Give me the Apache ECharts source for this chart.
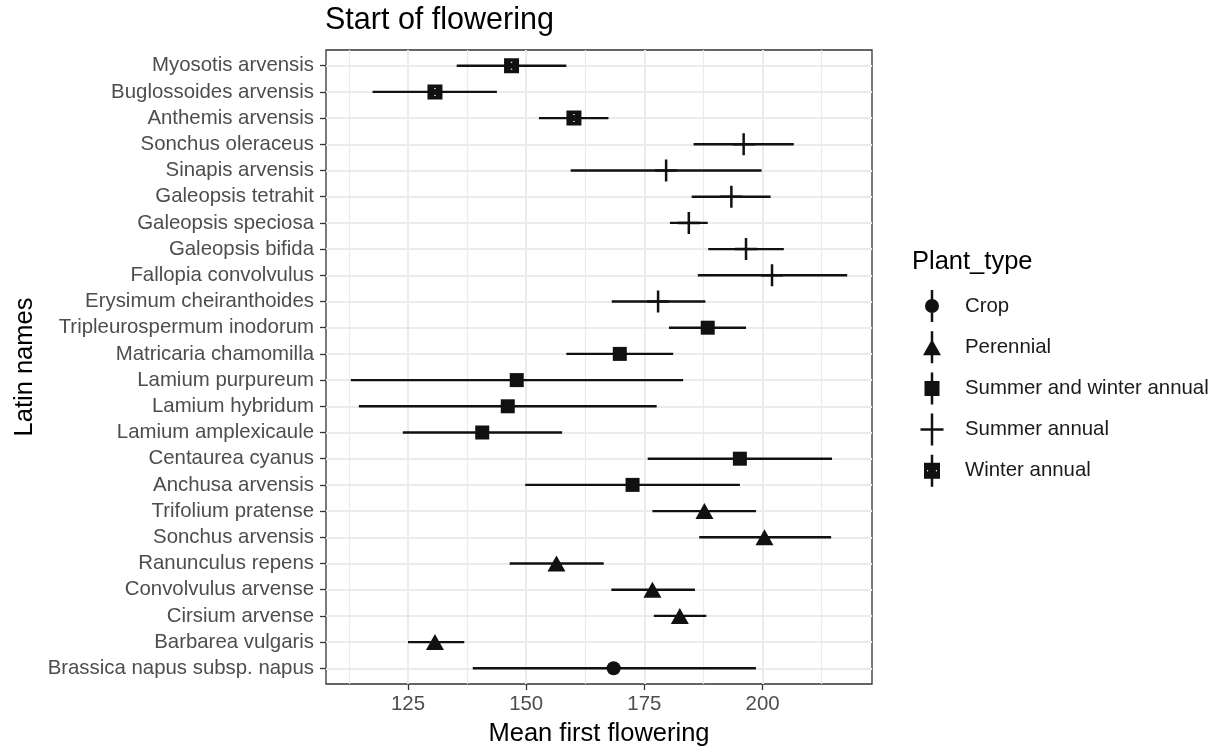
<!DOCTYPE html>
<html lang="en">
<head>
<meta charset="UTF-8" />
<title>Start of flowering</title>
<script type="text/javascript" src="https://cdn.jsdelivr.net/npm/echarts@6/dist/echarts.min.js"></script>
<style>
html, body { margin: 0; padding: 0; background: #fff; }
#main { width: 1222px; height: 752px; }
</style>
</head>
<body>
<div id="main"></div>
<script type="text/javascript">
// species, from top row to bottom row
var species = ['Myosotis arvensis', 'Buglossoides arvensis', 'Anthemis arvensis', 'Sonchus oleraceus',
    'Sinapis arvensis', 'Galeopsis tetrahit', 'Galeopsis speciosa', 'Galeopsis bifida', 'Fallopia convolvulus',
    'Erysimum cheiranthoides', 'Tripleurospermum inodorum', 'Matricaria chamomilla', 'Lamium purpureum',
    'Lamium hybridum', 'Lamium amplexicaule', 'Centaurea cyanus', 'Anchusa arvensis', 'Trifolium pratense',
    'Sonchus arvensis', 'Ranunculus repens', 'Convolvulus arvense', 'Cirsium arvense', 'Barbarea vulgaris',
    'Brassica napus subsp. napus'];
var plantType = ['Winter annual', 'Winter annual', 'Winter annual',
    'Summer annual', 'Summer annual', 'Summer annual', 'Summer annual', 'Summer annual', 'Summer annual', 'Summer annual',
    'Summer and winter annual', 'Summer and winter annual', 'Summer and winter annual', 'Summer and winter annual',
    'Summer and winter annual', 'Summer and winter annual', 'Summer and winter annual',
    'Perennial', 'Perennial', 'Perennial', 'Perennial', 'Perennial', 'Perennial',
    'Crop'];
var meanFlower = [146.9, 130.7, 160.1, 196.0, 179.6, 193.4, 184.4, 196.5, 202.0, 177.9, 188.4, 169.8,
    148.0, 146.1, 140.7, 195.2, 172.5, 187.7, 200.4, 156.4, 176.7, 182.5, 130.7, 168.5];
var lowerFlower = [135.3, 117.5, 152.7, 185.4, 159.4, 185.0, 180.4, 188.5, 186.3, 168.1, 180.2, 158.5,
    112.9, 114.6, 123.9, 175.7, 149.8, 176.7, 186.6, 146.5, 168.0, 177.0, 125.0, 138.7];
var upperFlower = [158.5, 143.8, 167.4, 206.6, 199.8, 201.7, 188.4, 204.5, 217.9, 187.9, 196.5, 181.1,
    183.2, 177.6, 157.6, 214.7, 195.2, 198.6, 214.5, 166.4, 185.7, 188.1, 136.9, 198.6];
var typeNames = ['Crop', 'Perennial', 'Summer and winter annual', 'Summer annual', 'Winter annual'];
var xTicks = [125, 150, 175, 200];
var xMinorTicks = [112.5, 137.5, 162.5, 187.5, 212.5];
var rowTicks = species.map(function (s, i) { return i; });

var font = "'Liberation Sans', Arial, Helvetica, sans-serif";
var ink = '#111111';

// point shapes like ggplot's (winter annual = boxed cross, shows as square with tiny gaps)
var plus = 'path://M0,9.75H9.75V0H12.25V9.75H22V12.25H12.25V22H9.75V12.25H0Z';
var boxedX = 'path://M0,0H15V15H0Z M6.5,3.5L7.5,5L8.5,3.5Z M6.5,11.5L8.5,11.5L7.5,10Z';
var shapes = {
    'Crop': { symbol: 'circle', size: 14 },
    'Perennial': { symbol: 'triangle', size: [18, 16] },
    'Summer and winter annual': { symbol: 'rect', size: 14 },
    'Summer annual': { symbol: plus, size: 22 },
    'Winter annual': { symbol: boxedX, size: 15 }
};

// legend keys: vertical range line + shape, box 40x32
var box = 'M0,16h0.01v0.01h-0.01Z M39.99,16h0.01v0.01h-0.01Z ';
var stem = 'M10.75,0H13.25V32H10.75Z ';
var legendIcons = {
    'Crop': 'path://' + box + stem + 'M5,16A7,7 0 1,1 19,16A7,7 0 1,1 5,16Z',
    'Perennial': 'path://' + box + stem + 'M12,8L21,24L3,24Z',
    'Summer and winter annual': 'path://' + box + stem + 'M4.5,8.5H19.5V23.5H4.5Z',
    'Summer annual': 'path://' + box + stem + 'M0.5,14.75H23.5V17.25H0.5Z',
    'Winter annual': 'path://' + box + stem + 'M4,8H20V24H4Z M7,15L7,17L8.5,16Z M17,15L15.5,16L17,17Z'
};

var myChart = echarts.init(document.getElementById('main'));

var series = [{
    type: 'custom',
    name: 'range',
    z: 2,
    renderItem: function (params, api) {
        var row = api.value(0);
        var a = api.coord([api.value(1), row]);
        var b = api.coord([api.value(2), row]);
        return {
            type: 'line',
            shape: { x1: a[0], y1: a[1], x2: b[0], y2: b[1] },
            style: { stroke: ink, lineWidth: 2.4 }
        };
    },
    encode: { x: [1, 2], y: 0 },
    data: species.map(function (s, i) { return [i, lowerFlower[i], upperFlower[i]]; })
}];

typeNames.forEach(function (t) {
    var pts = [];
    species.forEach(function (s, i) {
        if (plantType[i] === t) pts.push([meanFlower[i], i]);
    });
    series.push({
        type: 'scatter',
        name: t,
        z: 3,
        symbol: shapes[t].symbol,
        symbolSize: shapes[t].size,
        itemStyle: { color: ink, opacity: 1 },
        data: pts
    });
});

var options = {
    animation: false,
    backgroundColor: '#ffffff',
    textStyle: { fontFamily: font },
    title: [{
        text: 'Start of flowering',
        left: 325, top: 5, padding: 0,
        textStyle: { fontSize: 30.5, fontWeight: 'normal', color: '#000', fontFamily: font }
    }, {
        text: 'Plant_type',
        left: 912, top: 249, padding: 0,
        textStyle: { fontSize: 25.5, fontWeight: 'normal', color: '#000', fontFamily: font }
    }],
    legend: {
        orient: 'vertical',
        left: 920, top: 290, padding: 0,
        itemWidth: 40, itemHeight: 32, itemGap: 9.2,
        symbolKeepAspect: true,
        selectedMode: false,
        textStyle: { fontSize: 20.4, color: '#1a1a1a', fontFamily: font },
        data: typeNames.map(function (t) { return { name: t, icon: legendIcons[t] }; })
    },
    grid: {
        left: 326, right: 350, top: 50, bottom: 64,
        show: true, borderColor: '#333333', borderWidth: 1.3, backgroundColor: '#ffffff'
    },
    xAxis: [{
        type: 'value',
        min: 107.65, max: 223.15,
        name: 'Mean first flowering',
        nameLocation: 'middle', nameGap: 37,
        nameTextStyle: { fontSize: 25.5, color: '#000', fontFamily: font },
        axisLine: { show: false, onZero: false },
        axisTick: { show: true, length: 6, customValues: xTicks, lineStyle: { color: '#333333', width: 1.3 } },
        axisLabel: { customValues: xTicks, fontSize: 20.4, color: '#4d4d4d', margin: 10, fontFamily: font },
        splitLine: { show: true, lineStyle: { color: '#ebebeb', width: 2 } }
    }, {
        type: 'value',
        position: 'bottom',
        min: 107.65, max: 223.15,
        axisLine: { show: false, onZero: false },
        axisTick: { show: false, customValues: xMinorTicks },
        axisLabel: { show: false },
        splitLine: { show: true, lineStyle: { color: '#ebebeb', width: 1.2 } }
    }],
    yAxis: {
        type: 'value',
        inverse: true,
        min: -0.6, max: 23.6,
        name: 'Latin names',
        nameLocation: 'middle', nameRotate: 90, nameGap: 288,
        nameTextStyle: { fontSize: 25.5, color: '#000', fontFamily: font },
        axisLine: { show: false, onZero: false },
        axisTick: { show: true, length: 6, customValues: rowTicks, lineStyle: { color: '#333333', width: 1.3 } },
        axisLabel: {
            customValues: rowTicks, fontSize: 20.4, color: '#4d4d4d', margin: 12, fontFamily: font,
            formatter: function (v) { return species[Math.round(v)]; }
        },
        splitLine: { show: true, lineStyle: { color: '#ebebeb', width: 2 } }
    },
    series: series
};

myChart.setOption(options);
</script>
</body>
</html>
